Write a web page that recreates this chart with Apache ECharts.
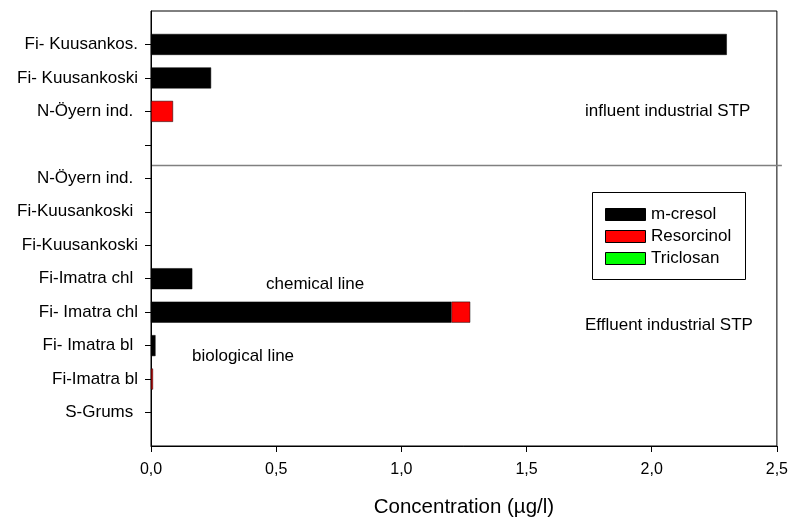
<!DOCTYPE html>
<html>
<head>
<meta charset="utf-8">
<script src="https://cdn.jsdelivr.net/npm/echarts@6/dist/echarts.min.js"></script>
<style>
  html, body { margin: 0; padding: 0; background: #fff; }
  #chart { width: 791px; height: 523px; }
</style>
</head>
<body>
<div id="chart"></div>
<script>
// Sample sites, top to bottom; blank entries pad the ends and split the two groups
const categories = [
  '', 'Fi- Kuusankos.', 'Fi- Kuusankoski', 'N-Öyern ind. ', '',
  'N-Öyern ind. ', 'Fi-Kuusankoski ', 'Fi-Kuusankoski', 'Fi-Imatra chl ',
  'Fi- Imatra chl', 'Fi- Imatra bl ', 'Fi-Imatra bl', 'S-Grums ', ''
];
// Concentrations in µg/l
const mCresol    = [null, 2.30, 0.24, 0, null, 0, 0, 0, 0.165, 1.20, 0.018, 0, 0, null];
const resorcinol = [null, 0, 0, 0.088, null, 0, 0, 0, 0, 0.075, 0, 0.008, 0, null];
const triclosan  = [null, 0, 0, 0, null, 0, 0, 0, 0, 0, 0, 0, 0, null];
const xTicks = [0, 0.5, 1.0, 1.5, 2.0, 2.5];
// Influent / effluent boundary, in category units
const groupSplit = 4.6;

const FONT = 'Liberation Sans, Arial, sans-serif';
const chart = echarts.init(document.getElementById('chart'));

const barStyle = (color) => ({ color: color, borderColor: '#000', borderWidth: 0.5 });
// zero concentrations are left out so no sliver is drawn on the axis
const nonZero = (arr) => arr.map((v) => (v ? v : null));

const txt = (text, x, y, size) => ({
  type: 'text', x: x, y: y,
  style: { text: text, font: size + 'px ' + FONT, fill: '#000', verticalAlign: 'middle' }
});

chart.setOption({
  animation: false,
  textStyle: { fontFamily: FONT },
  grid: {
    left: 151, right: 14, top: 11, bottom: 75,
    show: true, borderColor: '#000', borderWidth: 1, containLabel: false
  },
  xAxis: {
    type: 'value',
    min: xTicks[0], max: xTicks[xTicks.length - 1], interval: 0.5,
    axisLine: { show: true, lineStyle: { color: '#000', width: 1 } },
    axisTick: { show: true, length: 6, lineStyle: { color: '#000' } },
    splitLine: { show: false },
    axisLabel: {
      color: '#000', fontSize: 16, margin: 16, fontFamily: FONT,
      formatter: (v) => v.toFixed(1).replace('.', ',')
    },
    name: 'Concentration (µg/l)',
    nameLocation: 'middle', nameGap: 51,
    nameTextStyle: { color: '#000', fontSize: 20.5, fontFamily: FONT }
  },
  yAxis: {
    type: 'category',
    data: categories,
    inverse: true,
    boundaryGap: false,
    axisLine: { show: true, lineStyle: { color: '#000', width: 1 } },
    axisTick: {
      show: true, length: 6, lineStyle: { color: '#000' },
      interval: (i) => i > 0 && i < categories.length - 1
    },
    axisLabel: { color: '#000', fontSize: 17, margin: 13, fontFamily: FONT, interval: 0 },
    splitLine: { show: false }
  },
  legend: { show: false },
  series: [
    { name: 'm-cresol', type: 'bar', stack: 'total', data: nonZero(mCresol), barWidth: 21, itemStyle: barStyle('#000000') },
    { name: 'Resorcinol', type: 'bar', stack: 'total', data: nonZero(resorcinol), barWidth: 21, itemStyle: barStyle('#ff0000') },
    { name: 'Triclosan', type: 'bar', stack: 'total', data: nonZero(triclosan), barWidth: 21, itemStyle: barStyle('#00ff00') }
  ]
});

// Separator between the two groups, placed through the axis scales
const yA = chart.convertToPixel({ yAxisIndex: 0 }, Math.floor(groupSplit));
const yB = chart.convertToPixel({ yAxisIndex: 0 }, Math.floor(groupSplit) + 1);
const ySplit = Math.round(yA + (yB - yA) * (groupSplit - Math.floor(groupSplit))) + 0.5;
const xLeft = chart.convertToPixel({ xAxisIndex: 0 }, xTicks[0]);
const xRight = chart.convertToPixel({ xAxisIndex: 0 }, xTicks[xTicks.length - 1]);

chart.setOption({
  graphic: [
    { type: 'line', shape: { x1: xLeft, y1: ySplit, x2: xRight + 5, y2: ySplit },
      style: { stroke: '#808080', lineWidth: 1.5 } },
    txt('influent industrial STP', 585, 111, 17),
    txt('chemical line', 266, 284, 17),
    txt('biological line', 192, 356, 17),
    txt('Effluent industrial STP', 585, 325, 17),
    // legend box
    { type: 'rect', shape: { x: 592.5, y: 192.5, width: 153, height: 87 }, style: { fill: '#fff', stroke: '#000', lineWidth: 1 } },
    { type: 'rect', shape: { x: 605.5, y: 208.5, width: 40, height: 12 }, style: { fill: '#000000', stroke: '#000', lineWidth: 1 } },
    { type: 'rect', shape: { x: 605.5, y: 230.5, width: 40, height: 12 }, style: { fill: '#ff0000', stroke: '#000', lineWidth: 1 } },
    { type: 'rect', shape: { x: 605.5, y: 252.5, width: 40, height: 12 }, style: { fill: '#00ff00', stroke: '#000', lineWidth: 1 } },
    txt('m-cresol', 651, 214.5, 17),
    txt('Resorcinol', 651, 236.5, 17),
    txt('Triclosan', 651, 258.5, 17)
  ]
});
</script>
</body>
</html>
